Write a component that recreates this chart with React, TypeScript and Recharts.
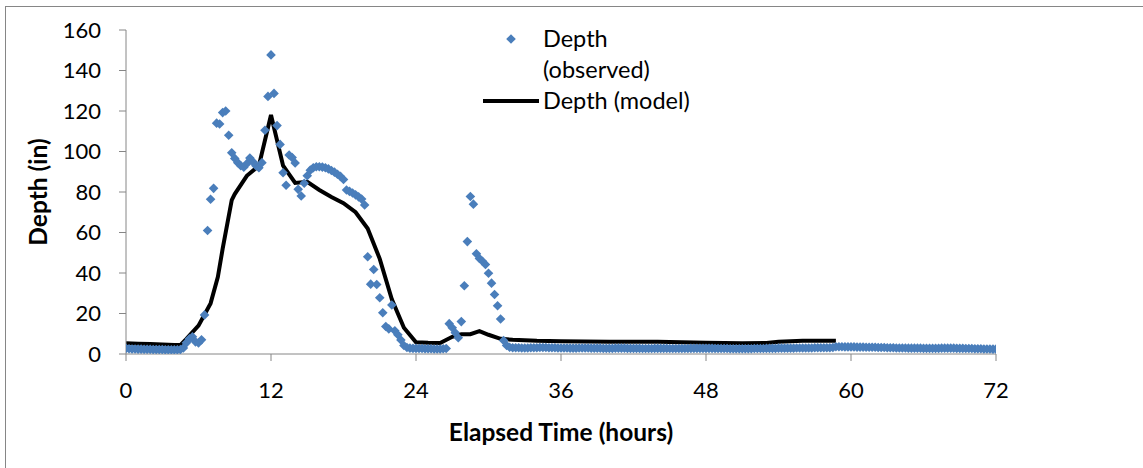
import React from "react";
import {
  ComposedChart,
  Scatter,
  Line,
  XAxis,
  YAxis,
  Legend,
  Label,
} from "recharts";

const FONT = "Lato, 'Noto Sans', sans-serif";
const BLUE = "#4A7EBB";
const AXIS = "#868686";

// observed depth (in), one reading every 15 minutes
const observedDay1 = [
  2.8, 2.6, 2.5, 2.5, 2.4, 2.4, 2.3, 2.3, 2.3, 2.2, 2.2, 2.2, 2.2, 2.1, 2.1, 2.1, 2.1, 2.1, 2.2,
  3.0, 5.5, 7.5, 8.5, 6.0, 5.5, 7.0, 19.3, 61, 76.4, 81.8, 114, 113.6, 119.2, 120, 108, 99.4,
  96.6, 94.5, 93, 92.2, 94, 96.8, 95, 93, 92, 94.5, 110.5, 127.2, 147.7, 128.7, 112.8, 103.5,
  89.5, 83.3, 98.3, 97, 94.3, 81.3, 78, 84.3, 88, 90.8, 92, 92.5, 92.5, 92.3, 92, 91.4, 90.6,
  89.8, 88.8, 87.7, 86.2, 81, 80.3, 79.5, 78.6, 77.6, 76.5, 73.6, 48, 34.5, 41.7, 34.3, 27.8,
  20.4, 13.6, 12.4, 24.2, 11.5, 9.5, 6.9, 4.2, 3.2, 2.9, 2.8,
];

const observedDay2 = [
  2.8, 2.7, 2.7, 2.6, 2.6, 2.6, 2.5, 2.5, 2.5, 2.6, 2.7,
  15.0, 13.0, 10.5, 8.0, 16.0, 33.7, 55.5, 77.8, 74.0, 49.5, 47.2, 45.8, 44.2, 39.9, 35.0,
  29.4, 23.8, 17.3, 6.7, 4.2, 3.3,
  3.1, 3.1, 3.1, 3.0, 3.0, 3.0, 3.1, 3.1,
  3.1, 3.2, 3.2, 3.2, 3.1, 3.1, 3.1, 3.0,
  3.0, 3.0, 3.0, 2.9, 2.9, 2.9, 3.0, 3.0,
  3.0, 3.0, 2.9, 2.9, 2.9, 2.9, 2.8, 2.8,
  2.8, 2.8, 2.9, 2.9, 2.9, 2.9, 2.8, 2.8,
  2.8, 2.8, 2.8, 2.7, 2.7, 2.7, 2.7, 2.8,
  2.8, 2.8, 2.8, 2.8, 2.7, 2.7, 2.7, 2.7,
  2.7, 2.7, 2.7, 2.8, 2.8, 2.8, 2.8, 2.8,
];

const observedDay3 = [
  2.8, 2.8, 2.8, 2.7, 2.7, 2.7, 2.7, 2.7, 2.6, 2.6,
  2.6, 2.6, 2.6, 2.6, 2.6, 2.6, 2.7, 2.7, 2.7, 2.7,
  2.8, 2.8, 2.8, 2.8, 2.9, 2.9, 2.9, 2.9, 2.9, 2.9,
  3.0, 3.0, 3.0, 3.0, 3.0, 3.0, 3.1, 3.1, 3.1, 3.1,
  3.1, 3.1, 3.2,
  3.6, 3.6, 3.6, 3.5, 3.5, 3.5, 3.5, 3.4, 3.4, 3.4,
  3.3, 3.3, 3.3, 3.3, 3.2, 3.2, 3.2, 3.1, 3.1, 3.1,
  3.0, 3.0, 3.0, 3.0, 2.9, 2.9, 2.9, 2.9, 2.9, 2.8,
  2.8, 2.8, 2.8, 2.8, 2.8, 2.9, 2.9, 2.9, 2.9, 2.9,
  2.8, 2.8, 2.8, 2.7, 2.7, 2.7, 2.6, 2.6, 2.6, 2.5,
  2.5, 2.5, 2.4, 2.4,
];

// model output
const modelHours = [
  0, 1, 2, 3, 4, 4.5, 5, 6, 7, 7.6, 8, 8.75, 9, 10, 11, 12, 13, 14, 15, 16, 17, 18, 19, 20,
  21, 22, 23, 24, 25, 26, 27, 27.75, 28.5, 29.25, 30, 31, 32, 34, 36, 40, 44, 48, 51, 53, 54,
  56, 58.75,
];
const modelDepth = [
  5.3, 5.1, 4.9, 4.7, 4.5, 4.4, 7.5, 14, 25, 38, 52, 76, 79, 88, 93, 118, 93, 84.5, 85, 81,
  77.5, 74.5, 70, 62, 47, 27, 13, 5.8, 5.5, 5.4, 8.5, 9.8, 9.8, 11.3, 9.5, 7.5, 7, 6.5, 6.3,
  6.1, 6, 5.6, 5.3, 5.4, 6, 6.5, 6.5,
];

const hourTicks = [0, 12, 24, 36, 48, 60, 72];
const depthTicks = [0, 20, 40, 60, 80, 100, 120, 140, 160];

const observed = [...observedDay1, ...observedDay2, ...observedDay3].map((v, i) => ({
  t: i * 0.25,
  v,
}));
const model = modelHours.map((t, i) => ({ t, v: modelDepth[i] }));

const diamondPath = (cx: number, cy: number, r: number) =>
  `M${cx},${cy - r}L${cx + r},${cy}L${cx},${cy + r}L${cx - r},${cy}Z`;

const Diamond = (props: any) => {
  const { cx, cy } = props;
  if (cx == null || cy == null) return null;
  return <path d={diamondPath(cx, cy, 4.8)} fill={BLUE} />;
};

const tickStyle = { fontSize: 22, fill: "#000", fontFamily: FONT };

function LegendBox({ payload }: any) {
  // markers first, then the line, as the series were added
  const items = [...(payload ?? [])].sort(
    (a: any, b: any) => Number(a.type === "line") - Number(b.type === "line")
  );
  return (
    <div style={{ fontFamily: FONT, fontSize: 23.5, lineHeight: "31px", color: "#000" }}>
      {items.map((entry: any) => (
        <div key={entry.value} style={{ display: "flex", alignItems: "flex-start" }}>
          <svg width={67} height={31} style={{ flex: "none" }}>
            {entry.type === "line" ? (
              <line x1={7} x2={63} y1={16} y2={16} stroke="#000" strokeWidth={4} />
            ) : (
              <path d={diamondPath(35, 16, 4.8)} fill={BLUE} />
            )}
          </svg>
          <span style={{ width: 165 }}>{entry.value}</span>
        </div>
      ))}
    </div>
  );
}

function XTitle({ viewBox }: any) {
  const { x, y, width } = viewBox;
  return (
    <text
      x={x + width / 2}
      y={y + 77}
      textAnchor="middle"
      dominantBaseline="central"
      fontFamily={FONT}
      fontSize={24.5}
      fontWeight={700}
      fill="#000"
    >
      Elapsed Time (hours)
    </text>
  );
}

function YTitle({ viewBox }: any) {
  const { x, y, height } = viewBox;
  const cx = x + 37;
  const cy = y + height / 2;
  return (
    <text
      x={cx}
      y={cy}
      transform={`rotate(-90 ${cx} ${cy})`}
      textAnchor="middle"
      dominantBaseline="central"
      fontFamily={FONT}
      fontSize={24.5}
      fontWeight={700}
      fill="#000"
    >
      Depth (in)
    </text>
  );
}

export default function App() {
  return (
    <div style={{ position: "relative", width: 1143, height: 468, overflow: "hidden", background: "#fff" }}>
      <style>{"body{margin:0}"}</style>
      <div
        style={{
          position: "absolute",
          left: 5,
          top: 6,
          width: 1200,
          height: 500,
          borderTop: `1px solid ${AXIS}`,
          borderLeft: `1px solid ${AXIS}`,
        }}
      />
      <ComposedChart
        width={1143}
        height={468}
        margin={{ top: 30, right: 147, bottom: 0, left: 0 }}
        style={{ position: "absolute", left: 0, top: 0 }}
      >
        <XAxis
          dataKey="t"
          type="number"
          domain={[0, 72]}
          ticks={hourTicks}
          height={114}
          tickSize={7}
          tickMargin={21}
          tick={tickStyle}
          stroke={AXIS}
          allowDataOverflow
        >
          <Label content={XTitle} />
        </XAxis>
        <YAxis
          type="number"
          domain={[0, 160]}
          ticks={depthTicks}
          width={126}
          tickSize={7}
          tickMargin={18}
          tick={tickStyle}
          stroke={AXIS}
          allowDataOverflow
        >
          <Label content={YTitle} />
        </YAxis>
        <Legend
          layout="vertical"
          verticalAlign="middle"
          align="center"
          content={LegendBox}
          wrapperStyle={{ left: 476, top: 23, width: 270, height: 93 }}
        />
        <Scatter
          name="Depth (observed)"
          data={observed}
          dataKey="v"
          shape={Diamond}
          legendType="diamond"
          fill={BLUE}
          isAnimationActive={false}
        />
        <Line
          name="Depth (model)"
          data={model}
          dataKey="v"
          type="linear"
          stroke="#000"
          strokeWidth={4}
          dot={false}
          activeDot={false}
          legendType="line"
          isAnimationActive={false}
        />
      </ComposedChart>
    </div>
  );
}
